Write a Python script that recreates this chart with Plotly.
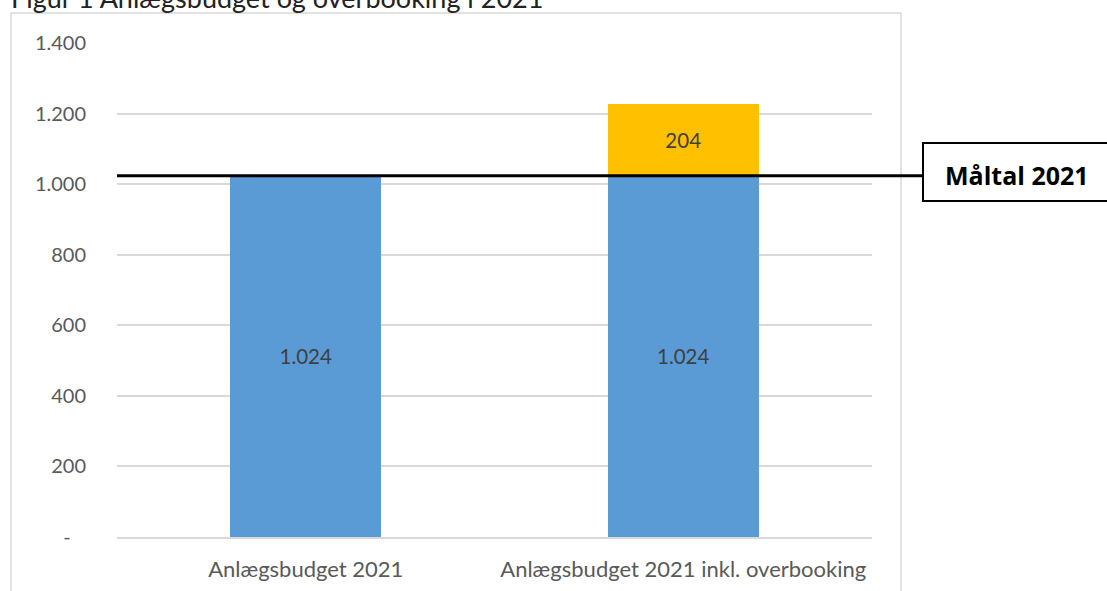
import plotly.graph_objects as go

categories = ["Anlægsbudget 2021", "Anlægsbudget 2021 inkl. overbooking"]
budget = [1024, 1024]
overbooking = [None, 204]
budget_labels = ["1.024", "1.024"]
overbooking_labels = ["", "204"]
maaltal = 1024
maaltal_label = "Måltal 2021"
title_text = "Figur 1 Anlægsbudget og overbooking i 2021"
ytick_vals = [0, 200, 400, 600, 800, 1000, 1200, 1400]
ytick_text = ["-\u00a0\u00a0\u00a0", "200", "400", "600", "800", "1.000", "1.200", "1.400"]

W, H = 1107, 591
L, R, T, B = 117, 235, 43, 54
PW, PH = W - L - R, H - T - B

def px(x):
    return (x - L) / PW

def py(y):
    return (H - B - y) / PH

FONT = "Lato"
GRAY = "#595959"

fig = go.Figure()
fig.add_trace(go.Bar(
    x=categories, y=budget, text=budget_labels, textposition="inside",
    insidetextanchor="middle", marker=dict(color="#5B9BD5", line=dict(width=0)),
    textfont=dict(color="#404040", size=20.5, family=FONT), width=0.4,
    texttemplate="%{text}", hoverinfo="skip", showlegend=False,
))
fig.add_trace(go.Bar(
    x=categories, y=overbooking, text=overbooking_labels, textposition="inside",
    insidetextanchor="middle", marker=dict(color="#FFC000", line=dict(width=0)),
    textfont=dict(color="#404040", size=20.5, family=FONT), width=0.4,
    texttemplate="%{text}", hoverinfo="skip", showlegend=False,
))

shapes = [
    dict(type="rect", xref="paper", yref="paper", x0=px(11), x1=px(901), y0=py(600), y1=py(13),
         line=dict(color="#D9D9D9", width=1.5), fillcolor="rgba(0,0,0,0)", layer="below"),
    dict(type="line", xref="paper", yref="y", x0=0, x1=px(923), y0=maaltal, y1=maaltal,
         line=dict(color="black", width=3), layer="above"),
    dict(type="rect", xref="paper", yref="paper", x0=px(923), x1=px(1120), y0=py(201), y1=py(143),
         line=dict(color="black", width=2), fillcolor="white", layer="above"),
]

annotations = [
    dict(text=maaltal_label, xref="paper", yref="paper", x=px(1017), y=py(175),
         xanchor="center", yanchor="middle", showarrow=False,
         font=dict(family="Open Sans", size=25, color="black", weight="bold")),
    dict(text=title_text, xref="paper", yref="paper", x=px(9), y=py(-2),
         xanchor="left", yanchor="middle", showarrow=False,
         font=dict(family=FONT, size=27, color="#222222")),
]

fig.update_layout(
    width=W, height=H, barmode="stack", bargap=0.6,
    margin=dict(l=L, r=R, t=T, b=B, autoexpand=False),
    paper_bgcolor="white", plot_bgcolor="white",
    shapes=shapes, annotations=annotations,
    font=dict(family=FONT, color=GRAY, size=20),
)
fig.update_xaxes(showgrid=False, showline=True, linecolor="#D9D9D9", linewidth=1.5,
                 ticks="", tickfont=dict(size=22, color=GRAY, family=FONT),
                 ticklabelstandoff=12, fixedrange=True)
fig.update_yaxes(range=[0, 1400], tickvals=ytick_vals, ticktext=ytick_text,
                 showgrid=True, gridcolor="#D9D9D9", gridwidth=1.5, zeroline=False,
                 showline=False, ticks="", tickfont=dict(size=20, color=GRAY, family=FONT),
                 ticklabelstandoff=30, fixedrange=True)

fig.write_html("out.html", config={"displayModeBar": False},
               post_script="document.body.style.margin='0';document.body.style.overflow='hidden';")
